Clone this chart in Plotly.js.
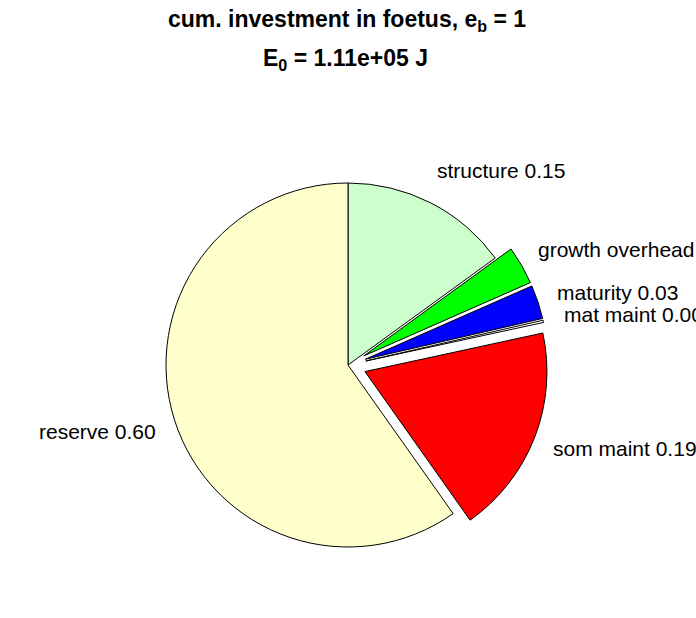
<!DOCTYPE html>
<html>
<head>
<meta charset="utf-8">
<script src="https://cdn.plot.ly/plotly-3.0.1.min.js"></script>
<style>html,body{margin:0;padding:0;background:#fff;}#chart{width:696px;height:618px;}</style>
</head>
<body>
<div id="chart"></div>
<script>
const sliceNames = ['structure', 'growth overhead', 'maturity', 'mat maint', 'som maint', 'reserve'];
const sliceValues = [0.150, 0.034, 0.030, 0.002, 0.186, 0.598];
const explode = [0, 0.1, 0.1, 0.1, 0.1, 0];
const sliceColors = ['#CCFFCC', '#00FF00', '#0000FF', '#FFFFFF', '#FF0000', '#FFFFCC'];
const titleLine1 = 'cum. investment in foetus, e<sub>b</sub> = 1';
const titleLine2 = 'E<sub>0</sub> = 1.11e+05 J';

const W = 696, H = 618;
const cx = 348, cy = 365, R = 182;
const maxPull = Math.max(...explode);
const box = 2 * R * (1 + maxPull);
const FONT = 'Liberation Sans, Arial, sans-serif';

const total = sliceValues.reduce((a, b) => a + b, 0);
const annotations = [];
let start = 90;
sliceValues.forEach((v, i) => {
  const span = v / total * 360;
  const mid = (start - span / 2) * Math.PI / 180;
  start -= span;
  const d = (1.2 + 0.7 * explode[i]) * R;
  const px = cx + d * Math.cos(mid);
  const py = cy - d * Math.sin(mid);
  const right = Math.cos(mid) >= 0;
  annotations.push({
    text: sliceNames[i] + ' ' + v.toFixed(2),
    xref: 'paper', yref: 'paper',
    x: (right ? px - 12 : px + 18) / W,
    y: 1 - py / H,
    xanchor: right ? 'left' : 'right', yanchor: 'middle',
    showarrow: false,
    font: {family: FONT, size: 21, color: '#000'}
  });
});
annotations.push({
  text: '<b>' + titleLine1 + '</b>', xref: 'paper', yref: 'paper',
  x: 347 / W, y: 1 - 21 / H, xanchor: 'center', yanchor: 'middle', showarrow: false,
  font: {family: FONT, size: 23, color: '#000'}
});
annotations.push({
  text: '<b>' + titleLine2 + '</b>', xref: 'paper', yref: 'paper',
  x: 345 / W, y: 1 - 60 / H, xanchor: 'center', yanchor: 'middle', showarrow: false,
  font: {family: FONT, size: 23, color: '#000'}
});

const trace = {
  type: 'pie',
  labels: sliceNames,
  values: sliceValues,
  pull: explode,
  sort: false,
  direction: 'clockwise',
  rotation: 0,
  textinfo: 'none',
  hoverinfo: 'none',
  showlegend: false,
  marker: {colors: sliceColors, line: {color: '#000', width: 1}},
  domain: {
    x: [(cx - box / 2) / W, (cx + box / 2) / W],
    y: [1 - (cy + box / 2) / H, 1 - (cy - box / 2) / H]
  }
};

Plotly.newPlot('chart', [trace], {
  width: W, height: H,
  margin: {l: 0, r: 0, t: 0, b: 0},
  paper_bgcolor: '#fff',
  showlegend: false,
  annotations: annotations
}, {staticPlot: true});
</script>
</body>
</html>
